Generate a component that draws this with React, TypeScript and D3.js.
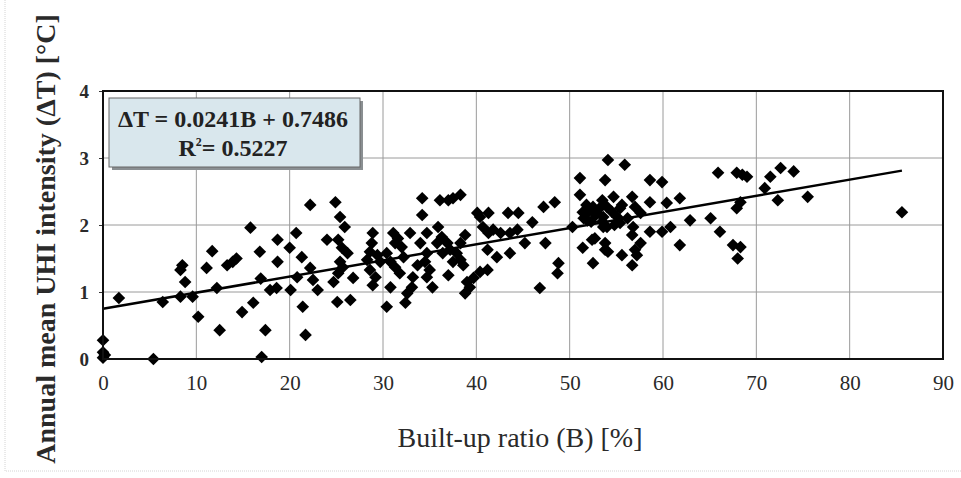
import React, { useEffect, useRef } from 'react';
import * as d3 from 'd3';

// built-up ratio B [%] and annual mean UHI intensity dT [°C]
const builtUp = [
  0, 0, 0, 0.2, 1.7, 5.4, 6.4, 8.5, 8.3, 8.8, 8.3, 9.6, 10.2, 11.1, 11.7, 12.2, 12.5, 13.3, 13.9, 14.3,
  14.9, 15.8, 16.1, 16.8, 16.9, 17.4, 17, 17.9, 18.6, 18.7, 18.7, 20, 20.1, 20.7, 20.8, 21.3, 21.4, 21.7, 22.2, 22.2,
  22.5, 23, 24, 24.9, 25.4, 25.9, 25.2, 25.6, 26.2, 25.4, 25.7, 25.2, 24.7, 26.8, 25.1, 26.5,
  28.9, 28.8, 28.6, 28.3, 29.4, 29.7, 28.6, 29.2, 28.9, 30.4, 30.8, 31.1, 31.3, 31.6, 30.4, 30.8, 31.3, 31.8, 32.2, 32,
  32.6, 32.4, 33.1, 33.2, 33.7, 32.9, 34, 34.7, 34.2, 34.2, 34.7, 34.5, 35, 34.7, 35.3,
  36.1, 37, 37.5, 38.3, 35.9, 36.3, 35.8, 36.9, 37.2, 36.4, 37.9, 38.3, 37.5, 38.6, 37, 38.3, 38.8, 39, 39.3, 38.8,
  39.7, 40.4, 41.2, 40.1, 40.4, 41.3, 40.7, 41.3, 41.2, 42.2, 42.6, 41.8, 43.4, 44.5, 43.6, 44.4, 43.6, 45.2, 46, 47.4,
  47.2, 48.4, 48.8, 48.7, 46.8,
  50.3, 51.1, 51.1, 51.4, 51.9, 51.4, 52.4, 52.5, 52.5, 52.9, 53.5, 53.8, 54.1, 53.6, 53.8,
  55.9, 54.7, 54, 53.6, 55.1, 54, 55.4, 56.7, 57, 57.6, 56.8, 56.7, 57.6, 57, 57.2, 56.7, 55.6, 53.8, 54.1,
  51.5, 52, 52.3, 52.8, 53.2, 53.5, 54.5, 54.8, 55.4, 51.8, 52.7, 55.6, 56.2,
  58.6, 59.9, 58.6, 60.4, 61.8, 58.6, 59.9, 60.8, 61.8, 62.9, 65.1, 65.9, 66.1, 67.9, 68.5, 69, 68.3, 67.9, 67.5, 68.3,
  68, 70.9, 71.5, 72.6, 74, 72.3, 75.5, 85.6,
];
const uhi = [
  0.28, 0.1, 0.02, 0.06, 0.91, 0, 0.85, 1.4, 1.33, 1.15, 0.93, 0.93, 0.63, 1.36, 1.61, 1.06, 0.43, 1.4, 1.45, 1.5,
  0.7, 1.96, 0.84, 1.6, 1.2, 0.43, 0.03, 1.03, 1.06, 1.78, 1.45, 1.66, 1.03, 1.88, 1.22, 1.52, 0.78, 0.36, 2.3, 1.36,
  1.18, 1.03, 1.78, 2.34, 2.12, 1.97, 1.78, 1.66, 1.58, 1.45, 1.37, 1.28, 1.15, 1.21, 0.85, 0.88,
  1.88, 1.73, 1.6, 1.48, 1.55, 1.45, 1.33, 1.22, 1.1, 0.78, 1.07, 1.88, 1.73, 1.8, 1.58, 1.45, 1.37, 1.28, 1.52, 1.67,
  0.98, 0.84, 1.07, 1.22, 1.4, 1.88, 1.73, 1.88, 2.4, 2.15, 1.58, 1.45, 1.33, 1.22, 1.07,
  2.37, 2.37, 2.4, 2.45, 1.97, 1.82, 1.73, 1.73, 1.63, 1.58, 1.58, 1.48, 1.45, 1.4, 1.25, 1.73, 1.85, 1.15, 1.07, 0.98,
  1.21, 1.3, 1.33, 2.18, 2.12, 2.18, 1.97, 1.88, 1.63, 1.52, 1.88, 1.93, 2.18, 2.18, 1.88, 1.93, 1.58, 1.73, 2.04, 1.73,
  2.27, 2.34, 1.43, 1.28, 1.06,
  1.97, 2.7, 2.45, 2.19, 2.07, 1.66, 1.78, 1.43, 2.27, 2.18, 2.37, 2.67, 2.97, 1.97, 1.63,
  2.9, 2.42, 2.27, 2.12, 2.12, 1.97, 2.03, 2.42, 2.27, 2.18, 1.97, 1.85, 1.73, 1.63, 1.55, 1.4, 1.55, 1.73, 1.6,
  2.1, 2.2, 2.05, 2.15, 2.25, 2.05, 2.2, 2.0, 2.25, 2.3, 1.8, 2.3, 2.1,
  2.67, 2.64, 2.34, 2.33, 2.4, 1.9, 1.9, 1.97, 1.7, 2.07, 2.1, 2.78, 1.9, 2.78, 2.75, 2.72, 2.34, 2.25, 1.7, 1.67,
  1.5, 2.55, 2.72, 2.85, 2.8, 2.37, 2.42, 2.19,
];

const xTicks = [0, 10, 20, 30, 40, 50, 60, 70, 80, 90];
const yTicks = [0, 1, 2, 3, 4];
const slope = 0.0241;
const intercept = 0.7486;
const fitRange = [0, 85.6];
const eqLine = 'ΔT = 0.0241B + 0.7486';
const r2Value = '= 0.5227';

const serif = '"Liberation Serif", serif';

const App = () => {
  const ref = useRef<SVGSVGElement>(null);

  useEffect(() => {
    const width = 961, height = 478;
    const margin = { top: 91, right: 18, bottom: 119, left: 103 };
    const innerWidth = width - margin.left - margin.right;
    const innerHeight = height - margin.top - margin.bottom;

    const svg = d3.select(ref.current).attr('width', width).attr('height', height);
    svg.selectAll('*').remove();

    svg.append('rect').attr('width', width).attr('height', height).attr('fill', '#fff');
    // faint outer border of the figure
    svg.append('path').attr('d', `M5,0V471H${width}`).attr('fill', 'none').attr('stroke', '#d4d4d4').attr('stroke-dasharray', '1,1');

    const g = svg.append('g').attr('transform', `translate(${margin.left},${margin.top})`);

    const xScale = d3.scaleLinear().domain([0, 90]).range([0, innerWidth]);
    const yScale = d3.scaleLinear().domain([0, 4]).range([innerHeight, 0]);

    // grid
    g.selectAll('.vgrid').data(xTicks.slice(1, -1)).join('line').attr('class', 'vgrid')
      .attr('x1', d => xScale(d)).attr('x2', d => xScale(d)).attr('y1', 0).attr('y2', innerHeight)
      .attr('stroke', '#9a9a9a').attr('stroke-width', 1);
    g.selectAll('.hgrid').data(yTicks.slice(1, -1)).join('line').attr('class', 'hgrid')
      .attr('y1', d => yScale(d)).attr('y2', d => yScale(d)).attr('x1', 0).attr('x2', innerWidth)
      .attr('stroke', '#9a9a9a').attr('stroke-width', 1);

    // axes
    const xAxis = g.append('g').attr('transform', `translate(0,${innerHeight})`)
      .call(d3.axisBottom(xScale).tickValues(xTicks).tickFormat(d3.format('d')).tickSize(0).tickPadding(16))
      .attr('font-family', serif).attr('font-size', 21);
    xAxis.select('.domain').remove();
    xAxis.selectAll('text').attr('fill', '#2a2a2a');

    const yAxis = g.append('g')
      .call(d3.axisLeft(yScale).tickValues(yTicks).tickFormat(d3.format('d')).tickSize(4).tickPadding(10))
      .attr('font-family', serif).attr('font-size', 19).attr('font-weight', 'bold');
    yAxis.select('.domain').remove();
    yAxis.selectAll('line').attr('stroke', '#333');
    yAxis.selectAll('text').attr('fill', '#2a2a2a');

    // points: black diamonds (squares turned 45 degrees)
    const diamond = d3.symbol().type(d3.symbolSquare).size(80);
    g.selectAll('.pt').data(builtUp.map((b, i) => [b, uhi[i]])).join('path').attr('class', 'pt')
      .attr('d', diamond).attr('fill', '#000')
      .attr('transform', d => `translate(${xScale(d[0])},${yScale(d[1])}) rotate(45)`);

    // regression line
    const line = d3.line<number>().x(d => xScale(d)).y(d => yScale(intercept + slope * d));
    g.append('path').datum(fitRange).attr('d', line).attr('fill', 'none').attr('stroke', '#000').attr('stroke-width', 2.5);

    // plot frame
    g.append('rect').attr('width', innerWidth).attr('height', innerHeight)
      .attr('fill', 'none').attr('stroke', '#111').attr('stroke-width', 2);

    // equation box
    const box = svg.append('g');
    box.append('rect').attr('x', 112).attr('y', 101).attr('width', 251).attr('height', 69).attr('fill', '#8a8f92');
    box.append('rect').attr('x', 109).attr('y', 98).attr('width', 251).attr('height', 69)
      .attr('fill', '#d9e7ed').attr('stroke', '#666').attr('stroke-width', 1);
    box.append('text').attr('x', 233).attr('y', 127).attr('text-anchor', 'middle')
      .attr('font-family', serif).attr('font-weight', 'bold').attr('font-size', 24)
      .attr('fill', '#222').text(eqLine);
    const r2 = box.append('text').attr('x', 233).attr('y', 156).attr('text-anchor', 'middle')
      .attr('font-family', serif).attr('font-weight', 'bold').attr('font-size', 24).attr('fill', '#222');
    r2.append('tspan').text('R');
    r2.append('tspan').attr('font-size', 12).attr('dy', -10).text('2');
    r2.append('tspan').attr('dy', 10).text(r2Value);

    // axis titles
    svg.append('text').attr('x', 520).attr('y', 447).attr('text-anchor', 'middle')
      .attr('font-family', serif).attr('font-size', 28).attr('fill', '#2a2a2a')
      .text('Built-up ratio (B) [%]');
    svg.append('text').attr('transform', 'translate(55,239) rotate(-90)').attr('text-anchor', 'middle')
      .attr('font-family', serif).attr('font-size', 28).attr('font-weight', 'bold')
      .attr('fill', '#2a2a2a').text('Annual mean UHI intensity (ΔT) [°C]');
  }, []);

  return <svg ref={ref} style={{ position: 'absolute', left: 0, top: 0 }}></svg>;
};

export default App;
